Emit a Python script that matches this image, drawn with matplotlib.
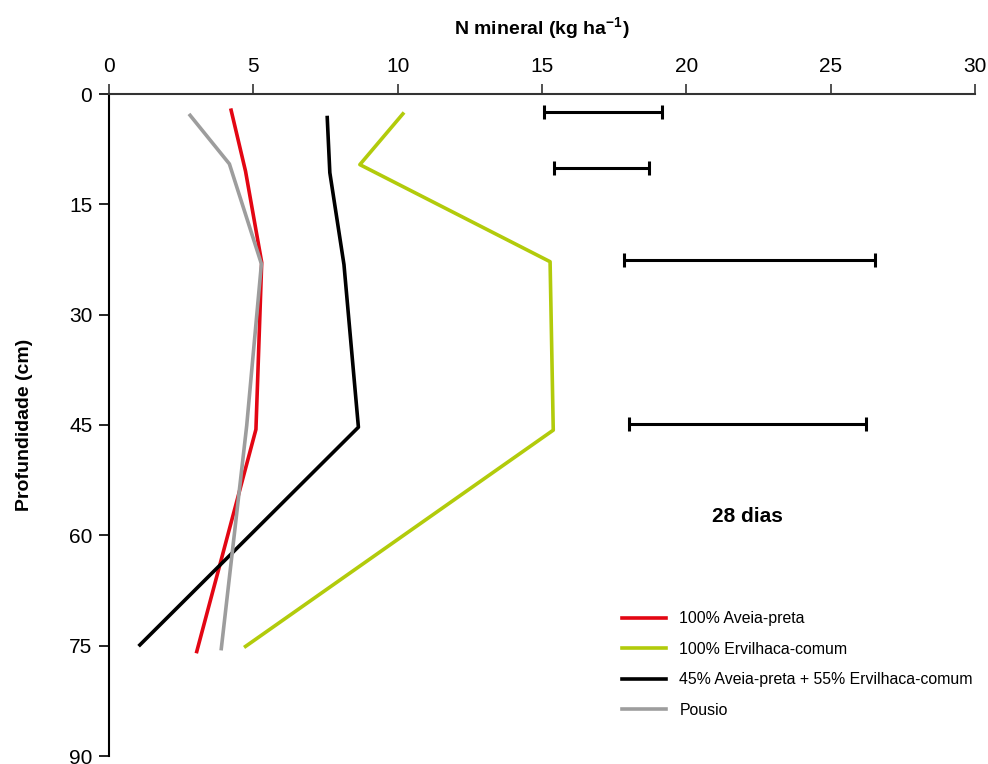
import numpy as np
import matplotlib
matplotlib.use('Agg')
import matplotlib.pyplot as plt

plt.rcParams['font.family'] = ['Liberation Sans', 'DejaVu Sans']

# N mineral (kg/ha) by depth (cm)
depth_aveia = [2.2, 10.5, 22.9, 45.6, 75.8]
n_aveia = [4.23, 4.73, 5.29, 5.09, 3.04]

depth_ervilhaca = [2.7, 9.6, 22.8, 45.7, 75.1]
n_ervilhaca = [10.18, 8.69, 15.28, 15.39, 4.73]

depth_consorcio = [3.2, 10.7, 23.2, 45.3, 74.9]
n_consorcio = [7.56, 7.65, 8.14, 8.64, 1.07]

depth_pousio = [2.9, 9.5, 23.1, 45.1, 75.4]
n_pousio = [2.81, 4.17, 5.28, 4.77, 3.89]

# LSD bars (left and right ends)
lsd_depth = [2.4, 10.1, 22.5, 44.9]
lsd_left = [15.07, 15.41, 17.85, 18.02]
lsd_right = [19.16, 18.71, 26.54, 26.22]

labels = ['100% Aveia-preta', '100% Ervilhaca-comum',
          '45% Aveia-preta + 55% Ervilhaca-comum', 'Pousio']
colors = ['#e30613', '#b2cb0b', '#000000', '#9d9d9d']

fig = plt.figure(figsize=(9.88, 7.64), dpi=100)
ax = fig.add_axes([109/988, 1 - 756/764, (975-109)/988, (756-94)/764])

ax.plot(n_aveia, depth_aveia, color=colors[0], lw=2.6, label=labels[0])
ax.plot(n_ervilhaca, depth_ervilhaca, color=colors[1], lw=2.6, label=labels[1])
ax.plot(n_consorcio, depth_consorcio, color=colors[2], lw=2.6, label=labels[2])
ax.plot(n_pousio, depth_pousio, color=colors[3], lw=2.6, label=labels[3])

lsd_left = np.array(lsd_left)
lsd_right = np.array(lsd_right)
center = (lsd_left + lsd_right) / 2
half = (lsd_right - lsd_left) / 2
ax.errorbar(center, lsd_depth, xerr=half, fmt='none', ecolor='black',
            elinewidth=2.2, capsize=4.7, capthick=2.2)

ax.set_xlim(0, 30)
ax.set_ylim(90, 0)
ax.set_xticks(np.arange(0, 31, 5))
ax.set_yticks(np.arange(0, 91, 15))
ax.xaxis.tick_top()
ax.xaxis.set_label_position('top')
ax.tick_params(axis='both', direction='out', length=7, width=1.2,
               labelsize=15, colors='black')
ax.tick_params(axis='x', pad=6, color='#333333')
ax.tick_params(axis='y', pad=5)

ax.spines['right'].set_visible(False)
ax.spines['bottom'].set_visible(False)
ax.spines['top'].set_color('#333333')
ax.spines['top'].set_linewidth(1.5)
ax.spines['left'].set_linewidth(1.5)

ax.set_xlabel('N mineral (kg ha$^{\\mathregular{-1}}$)', fontsize=14,
              fontweight='bold', labelpad=16)
ax.set_ylabel('Profundidade (cm)', fontsize=14, fontweight='bold', labelpad=26)

ax.text(22.1, 57.5, '28 dias', fontsize=15, fontweight='bold',
        ha='center', va='center')

leg = ax.legend(loc='upper left', bbox_to_anchor=(608/988, 1 - 597/764),
                bbox_transform=fig.transFigure, frameon=False, fontsize=11.4,
                handlelength=2.75, handletextpad=0.85, labelspacing=0.98)

ax.patch.set_visible(False)
fig.savefig('out.png', dpi=100)
